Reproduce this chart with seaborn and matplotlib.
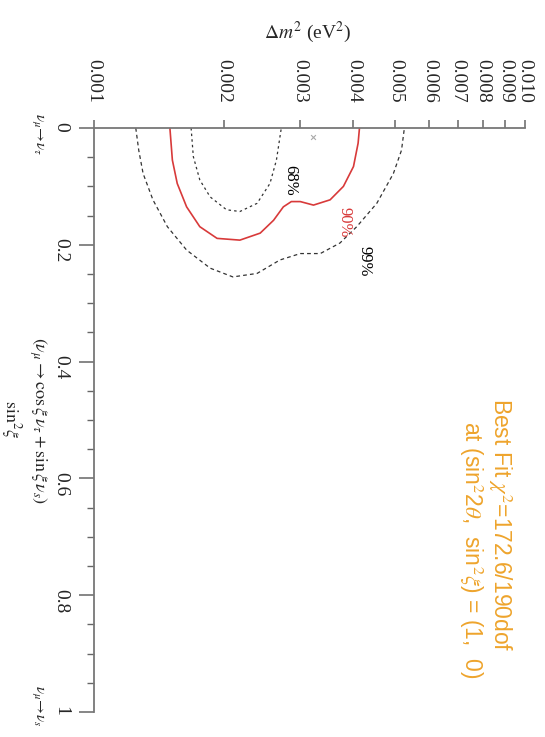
import matplotlib
matplotlib.use("Agg")
import matplotlib.pyplot as plt
from matplotlib.ticker import FixedLocator, NullLocator, MultipleLocator
import seaborn as sns

# contours in (dm2 [eV^2], sin^2 xi)
dm2_99 = [0.00125, 0.00127, 0.00130, 0.00137, 0.00148, 0.00164, 0.00186, 0.00210, 0.00239,
          0.00270, 0.00301, 0.00335, 0.00372, 0.00407, 0.00453, 0.00495, 0.00517, 0.00525]
s2_99 = [0.0, 0.038, 0.078, 0.123, 0.169, 0.209, 0.240, 0.255, 0.249,
         0.226, 0.215, 0.215, 0.197, 0.169, 0.129, 0.078, 0.038, 0.0]

dm2_90 = [0.00150, 0.00152, 0.00156, 0.00164, 0.00176, 0.00193, 0.00218, 0.00243, 0.00261,
          0.00275, 0.00287, 0.00301, 0.00323, 0.00353, 0.00379, 0.00400, 0.00410, 0.00413]
s2_90 = [0.0, 0.055, 0.095, 0.135, 0.169, 0.189, 0.192, 0.180, 0.158,
         0.135, 0.126, 0.126, 0.132, 0.123, 0.100, 0.066, 0.026, 0.0]

dm2_68 = [0.00168, 0.00170, 0.00176, 0.00186, 0.00203, 0.00218, 0.00239, 0.00256, 0.00265, 0.00272]
s2_68 = [0.0, 0.049, 0.089, 0.118, 0.140, 0.143, 0.129, 0.095, 0.055, 0.0]

best_dm2 = [0.00322]
best_s2 = [0.015]

dm2_ticks = [0.001, 0.002, 0.003, 0.004, 0.005, 0.006, 0.007, 0.008, 0.009, 0.010]
dm2_labels = ["0.001", "0.002", "0.003", "0.004", "0.005", "0.006", "0.007", "0.008", "0.009", "0.010"]
s2_ticks = [0, 0.2, 0.4, 0.6, 0.8, 1.0]
s2_labels = ["0", "0.2", "0.4", "0.6", "0.8", "1"]

sns.set_style("ticks")
plt.rcParams["font.family"] = ["Liberation Serif", "DejaVu Serif"]
plt.rcParams["mathtext.fontset"] = "stix"

fig = plt.figure(figsize=(5.45, 7.37), dpi=100)
ax = fig.add_axes([94 / 545, 25 / 737, 431 / 545, 584 / 737])

# the page is turned a quarter: dm2 runs across the top, sin^2 xi runs down
sns.lineplot(x=dm2_99, y=s2_99, sort=False, estimator=None, ax=ax, color="#333333",
             linewidth=0.9, linestyle=(0, (3, 2.5)))
sns.lineplot(x=dm2_90, y=s2_90, sort=False, estimator=None, ax=ax, color="#d83a3a",
             linewidth=1.2)
sns.lineplot(x=dm2_68, y=s2_68, sort=False, estimator=None, ax=ax, color="#333333",
             linewidth=0.9, linestyle=(0, (2, 2.5)))
sns.scatterplot(x=best_dm2, y=best_s2, ax=ax, marker="x", s=12, color="#aaaaaa", linewidth=0.8)

ax.set_xscale("log")
ax.set_xlim(0.001, 0.010)
ax.set_ylim(1.0, 0.0)

ax.xaxis.tick_top()
ax.xaxis.set_major_locator(FixedLocator(dm2_ticks))
ax.xaxis.set_minor_locator(NullLocator())
ax.set_xticklabels(dm2_labels, rotation=270, fontsize=14)
ax.tick_params(axis="x", which="major", direction="out", length=6, width=1.1,
               color="#666666", pad=12)

ax.set_yticks(s2_ticks)
ax.set_yticklabels(s2_labels, rotation=270, fontsize=14)
ax.yaxis.set_minor_locator(MultipleLocator(0.05))
ax.tick_params(axis="y", which="major", direction="out", length=11, width=1.1,
               color="#666666", pad=7)
ax.tick_params(axis="y", which="minor", direction="out", length=5, width=1.0,
               color="#666666")

for side in ["bottom", "right"]:
    ax.spines[side].set_visible(False)
for side in ["top", "left"]:
    ax.spines[side].set_color("#777777")
    ax.spines[side].set_linewidth(1.3)
ax.set_xlabel("")
ax.set_ylabel("")

# contour labels
ax.text(0.00285, 0.089, "68%", rotation=270, fontsize=12, color="black", ha="center", va="center")
ax.text(0.00382, 0.161, "90%", rotation=270, fontsize=12, color="#d83a3a", ha="center", va="center")
ax.text(0.00425, 0.229, "99%", rotation=270, fontsize=12, color="black", ha="center", va="center")

# axis titles
fig.text(308 / 545, 1 - 32 / 737, r"$\Delta m^2$ (eV$^2$)", fontsize=14, ha="center", va="center")
fig.text(38 / 545, 1 - 421 / 737,
         r"$(\nu_\mu \rightarrow \cos\xi\,\nu_\tau + \sin\xi\,\nu_s)$",
         rotation=270, fontsize=13, ha="center", va="center")
fig.text(11 / 545, 1 - 419 / 737, r"$\sin^2\!\xi$", rotation=270, fontsize=13,
         ha="center", va="center")
fig.text(38 / 545, 1 - 134 / 737, r"$\nu_\mu\!\rightarrow\!\nu_\tau$", rotation=270,
         fontsize=11, ha="center", va="center")
fig.text(38 / 545, 1 - 706 / 737, r"$\nu_\mu\!\rightarrow\!\nu_s$", rotation=270,
         fontsize=11, ha="center", va="center")

# best fit note
orange = "#eea42c"
fig.text(500 / 545, 1 - 525 / 737, r"Best Fit $\chi^2$=172.6/190dof", rotation=270,
         fontsize=16.5, color=orange, ha="center", va="center", family="Liberation Sans")
fig.text(471 / 545, 1 - 550 / 737, r"at (sin$^2$2$\theta$,  sin$^2\xi$) = (1,  0)", rotation=270,
         fontsize=16.5, color=orange, ha="center", va="center", family="Liberation Sans")

fig.savefig("out.png", dpi=100)
